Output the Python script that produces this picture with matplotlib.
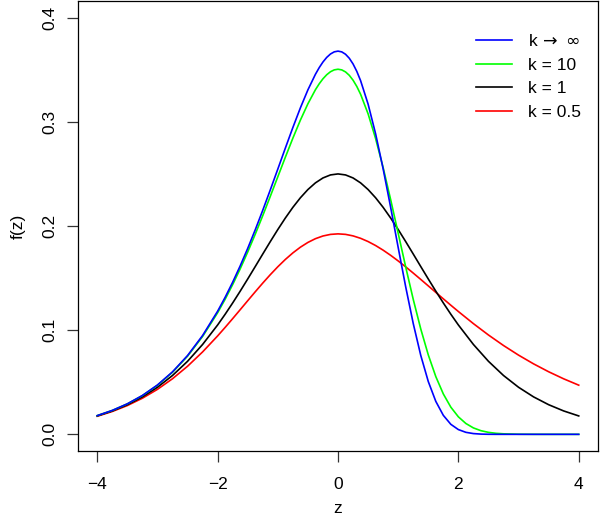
import matplotlib
matplotlib.use("Agg")
import matplotlib.pyplot as plt

plt.rcParams['font.family'] = ['Liberation Sans', 'DejaVu Sans']
plt.rcParams['mathtext.fontset'] = 'dejavusans'

# values
z_peaked = [-4.0, -3.75, -3.5, -3.25, -3.0, -2.75, -2.5, -2.25, -2.0, -1.875,
            -1.75, -1.625, -1.5, -1.375, -1.25, -1.125, -1.0, -0.875, -0.75,
            -0.625, -0.5, -0.375, -0.3125, -0.25, -0.1875, -0.125, -0.0625,
            0.0, 0.0625, 0.125, 0.1875, 0.25, 0.3125, 0.375, 0.5, 0.625, 0.75,
            0.875, 1.0, 1.125, 1.25, 1.375, 1.5, 1.625, 1.75, 1.875, 2.0, 2.125,
            2.25, 2.375, 2.5, 2.625, 2.75, 3.0, 3.25, 3.5, 3.75, 4.0]
f_inf = [0.01798, 0.02297, 0.02930, 0.03730, 0.04737, 0.05997, 0.07562, 0.09486,
         0.11821, 0.13155, 0.14606, 0.16172, 0.17851, 0.19635, 0.21514, 0.23465,
         0.25465, 0.27476, 0.29453, 0.31341, 0.33070, 0.34566, 0.35200, 0.35744,
         0.36185, 0.36513, 0.36718, 0.36788, 0.36715, 0.36489, 0.36105, 0.35557,
         0.34842, 0.33960, 0.31704, 0.28845, 0.25487, 0.21787, 0.17937, 0.14153,
         0.10642, 0.07577, 0.05071, 0.03164, 0.01823, 0.00960, 0.00456, 0.00193,
         0.00072, 0.00023, 0.00006, 0.00001, 0.0, 0.0, 0.0, 0.0, 0.0, 0.0]
f_k10 = [0.01795, 0.02292, 0.02921, 0.03716, 0.04714, 0.05960, 0.07503, 0.09392,
         0.11673, 0.12972, 0.14378, 0.15890, 0.17504, 0.19211, 0.20998, 0.22845,
         0.24724, 0.26600, 0.28431, 0.30163, 0.31734, 0.33083, 0.33649, 0.34132,
         0.34521, 0.34810, 0.34988, 0.35049, 0.34986, 0.34793, 0.34465, 0.33999,
         0.33395, 0.32653, 0.30767, 0.28391, 0.25607, 0.22532, 0.19302, 0.16063,
         0.12960, 0.10118, 0.07628, 0.05544, 0.03877, 0.02606, 0.01681, 0.01040,
         0.00616, 0.00350, 0.00190, 0.00099, 0.00050, 0.00011, 0.00002, 0.0,
         0.0, 0.0]

z_broad = [-4.0, -3.75, -3.5, -3.25, -3.0, -2.75, -2.5, -2.25, -2.0, -1.875,
           -1.75, -1.625, -1.5, -1.375, -1.25, -1.125, -1.0, -0.875, -0.75,
           -0.625, -0.5, -0.375, -0.25, -0.125, 0.0, 0.125, 0.25, 0.375, 0.5,
           0.625, 0.75, 0.875, 1.0, 1.125, 1.25, 1.375, 1.5, 1.625, 1.75, 1.875,
           2.0, 2.25, 2.5, 2.75, 3.0, 3.25, 3.5, 3.75, 4.0]
f_k1 = [0.01766, 0.02245, 0.02845, 0.03593, 0.04518, 0.05648, 0.07010, 0.08626,
        0.10499, 0.11528, 0.12613, 0.13745, 0.14915, 0.16108, 0.17311, 0.18502,
        0.19661, 0.20765, 0.21790, 0.22709, 0.23500, 0.24141, 0.24613, 0.24903,
        0.25000, 0.24903, 0.24613, 0.24141, 0.23500, 0.22709, 0.21790, 0.20765,
        0.19661, 0.18502, 0.17311, 0.16108, 0.14915, 0.13745, 0.12613, 0.11528,
        0.10499, 0.08626, 0.07010, 0.05648, 0.04518, 0.03593, 0.02845, 0.02245,
        0.01766]
f_k05 = [0.01735, 0.02195, 0.02765, 0.03467, 0.04318, 0.05337, 0.06535, 0.07911,
         0.09449, 0.10267, 0.11109, 0.11966, 0.12829, 0.13685, 0.14522, 0.15327,
         0.16087, 0.16788, 0.17417, 0.17966, 0.18423, 0.18783, 0.19041, 0.19194,
         0.19245, 0.19196, 0.19051, 0.18819, 0.18507, 0.18124, 0.17680, 0.17184,
         0.16646, 0.16076, 0.15481, 0.14871, 0.14251, 0.13628, 0.13007, 0.12393,
         0.11790, 0.10627, 0.09536, 0.08527, 0.07603, 0.06764, 0.06007, 0.05328,
         0.04720]

labels = [r"k$\,\rightarrow\;\infty$", "k = 10", "k = 1", "k = 0.5"]
colors = ["#0000FF", "#00FF00", "#000000", "#FF0000"]

xticks = [-4, -2, 0, 2, 4]
xtick_labels = ["\u22124", "\u22122", "0", "2", "4"]
yticks = [0.0, 0.1, 0.2, 0.3, 0.4]
ytick_labels = ["0.0", "0.1", "0.2", "0.3", "0.4"]

fig = plt.figure(figsize=(6.0, 5.18), dpi=100)
ax = fig.add_axes([78/600, 67/518, 520/600, 450/518])

lw = 1.2
l4, = ax.plot(z_broad, f_k05, color=colors[3], lw=lw, zorder=2)
l3, = ax.plot(z_broad, f_k1, color=colors[2], lw=lw, zorder=3)
l2, = ax.plot(z_peaked, f_k10, color=colors[1], lw=lw, zorder=4)
l1, = ax.plot(z_peaked, f_inf, color=colors[0], lw=lw, zorder=5)

ax.set_xlim(-4.32, 4.32)
ax.set_ylim(-0.016, 0.416)
ax.set_xticks(xticks)
ax.set_xticklabels(xtick_labels)
ax.set_yticks(yticks)
ax.set_yticklabels(ytick_labels, rotation=90, va='center')
ax.tick_params(axis='both', length=8, width=0.9, labelsize=12.5, direction='out',
               color='#333333')
ax.tick_params(axis='x', pad=11)
ax.tick_params(axis='y', pad=7)
for s in ax.spines.values():
    s.set_linewidth(0.9)

ax.set_xlabel("z", fontsize=12.5, labelpad=6)
ax.set_ylabel("f(z)", fontsize=12.5, labelpad=12)

leg = ax.legend([l1, l2, l3, l4], labels, loc='upper left', frameon=False,
                fontsize=12.5, handlelength=2.05, handletextpad=0.95,
                labelspacing=0.49, borderpad=0, borderaxespad=0,
                bbox_to_anchor=(476/600, 1 - 33/518),
                bbox_transform=fig.transFigure)

fig.savefig("out.png", dpi=100)
